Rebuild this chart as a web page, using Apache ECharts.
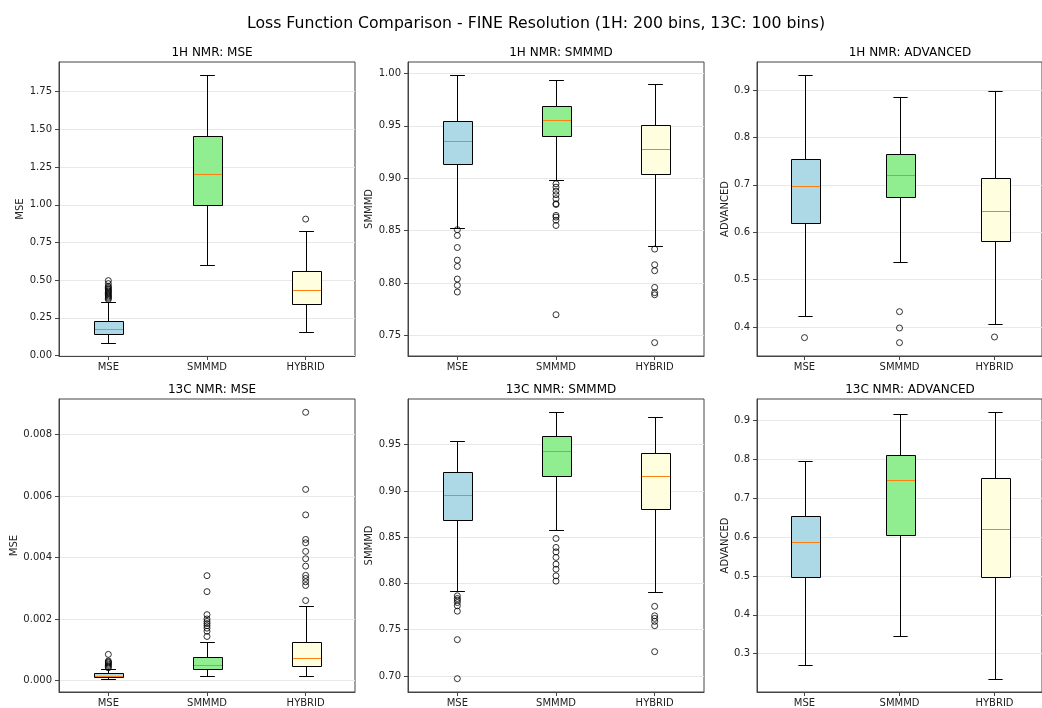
<!DOCTYPE html>
<html><head><meta charset="utf-8">
<script src="https://cdn.jsdelivr.net/npm/echarts@6/dist/echarts.min.js"></script>
<style>html,body{margin:0;padding:0;background:#fff}#c{width:1042px;height:708px}</style>
</head><body><div id="c"></div><script>
const categories = ['MSE', 'SMMMD', 'HYBRID'];
const boxColors = ['#add8e6', '#90ee90', '#ffffe0'];
const mainTitle = 'Loss Function Comparison - FINE Resolution (1H: 200 bins, 13C: 100 bins)';

// per category: [low whisker, Q1, median, Q3, high whisker]
const h1MseStats = [[0.086, 0.146, 0.179, 0.229, 0.358], [0.600, 0.997, 1.205, 1.454, 1.858], [0.156, 0.344, 0.434, 0.563, 0.828]];
const h1MseOutliers = [[0.372, 0.380, 0.388, 0.396, 0.404, 0.412, 0.420, 0.428, 0.436, 0.444, 0.452, 0.460, 0.477, 0.497], [], [0.905]];
const h1MseTicks = [0, 0.25, 0.5, 0.75, 1.0, 1.25, 1.5, 1.75];

const h1SmmmdStats = [[0.853, 0.914, 0.935, 0.955, 0.998], [0.8985, 0.9404, 0.9556, 0.969, 0.994], [0.835, 0.904, 0.928, 0.951, 0.990]];
const h1SmmmdOutliers = [
  [0.851, 0.8455, 0.834, 0.822, 0.816, 0.804, 0.798, 0.7916],
  [0.8947, 0.8915, 0.8877, 0.8843, 0.8805, 0.8757, 0.875, 0.8646, 0.863, 0.860, 0.855, 0.770],
  [0.8325, 0.8176, 0.8119, 0.796, 0.791, 0.789, 0.7434]];
const h1SmmmdTicks = [0.75, 0.80, 0.85, 0.90, 0.95, 1.00];

const h1AdvStats = [[0.4232, 0.6205, 0.697, 0.7547, 0.931], [0.5377, 0.674, 0.721, 0.766, 0.886], [0.4057, 0.582, 0.6443, 0.714, 0.8985]];
const h1AdvOutliers = [[0.3777], [0.4324, 0.398, 0.3671], [0.379]];
const h1AdvTicks = [0.4, 0.5, 0.6, 0.7, 0.8, 0.9];

const c13MseStats = [[0.000055, 0.00012, 0.00014, 0.00025, 0.00038], [0.00013, 0.00037, 0.00051, 0.00077, 0.00125], [0.00014, 0.000455, 0.000715, 0.00125, 0.00241]];
const c13MseOutliers = [
  [0.00041, 0.00045, 0.00049, 0.00053, 0.00057, 0.00060, 0.00063, 0.000846],
  [0.00341, 0.00289, 0.00214, 0.00200, 0.00192, 0.00185, 0.00178, 0.00170, 0.00160, 0.00143],
  [0.00873, 0.00622, 0.00539, 0.00459, 0.00448, 0.0042, 0.00396, 0.00372, 0.00342, 0.00332, 0.00321, 0.00309, 0.0026]];
const c13MseTicks = [0, 0.002, 0.004, 0.006, 0.008];

const c13SmmmdStats = [[0.7914, 0.8683, 0.8955, 0.9209, 0.9543], [0.8575, 0.916, 0.9435, 0.9593, 0.985], [0.7903, 0.8802, 0.9161, 0.9406, 0.9795]];
const c13SmmmdOutliers = [
  [0.7866, 0.7837, 0.7819, 0.7794, 0.7758, 0.770, 0.7392, 0.697],
  [0.8486, 0.8389, 0.8341, 0.8281, 0.8208, 0.8154, 0.8082, 0.8025],
  [0.7752, 0.765, 0.7622, 0.759, 0.7543, 0.7262]];
const c13SmmmdTicks = [0.70, 0.75, 0.80, 0.85, 0.90, 0.95];

const c13AdvStats = [[0.2718, 0.4974, 0.5872, 0.6528, 0.7964], [0.3444, 0.6059, 0.7462, 0.8103, 0.9162], [0.2359, 0.4974, 0.6195, 0.7528, 0.9205]];
const c13AdvOutliers = [[], [], []];
const c13AdvTicks = [0.3, 0.4, 0.5, 0.6, 0.7, 0.8, 0.9];

const panels = [
  { title: '1H NMR: MSE', yName: 'MSE', stats: h1MseStats, outliers: h1MseOutliers, ticks: h1MseTicks, dec: 2, row: 0, col: 0, gap: 32 },
  { title: '1H NMR: SMMMD', yName: 'SMMMD', stats: h1SmmmdStats, outliers: h1SmmmdOutliers, ticks: h1SmmmdTicks, dec: 2, row: 0, col: 1, gap: 32 },
  { title: '1H NMR: ADVANCED', yName: 'ADVANCED', stats: h1AdvStats, outliers: h1AdvOutliers, ticks: h1AdvTicks, dec: 1, row: 0, col: 2, gap: 27 },
  { title: '13C NMR: MSE', yName: 'MSE', stats: c13MseStats, outliers: c13MseOutliers, ticks: c13MseTicks, dec: 3, row: 1, col: 0, gap: 38 },
  { title: '13C NMR: SMMMD', yName: 'SMMMD', stats: c13SmmmdStats, outliers: c13SmmmdOutliers, ticks: c13SmmmdTicks, dec: 2, row: 1, col: 1, gap: 32 },
  { title: '13C NMR: ADVANCED', yName: 'ADVANCED', stats: c13AdvStats, outliers: c13AdvOutliers, ticks: c13AdvTicks, dec: 1, row: 1, col: 2, gap: 27 }
];

const colLeft = [59, 408, 757];
const plotW = 296;
const rowTop = [62, 399];
const plotH = 294;
const FONT = 'DejaVu Sans';

function crisp(v) { return Math.round(v) + 0.5; }

function renderBox(params, api) {
  const ci = api.value(0);
  const lo = api.coord([ci, api.value(1)]);
  const q1 = api.coord([ci, api.value(2)]);
  const md = api.coord([ci, api.value(3)]);
  const q3 = api.coord([ci, api.value(4)]);
  const hi = api.coord([ci, api.value(5)]);
  const band = api.size([1, 0])[0];
  const bw = band * 0.3;
  const cw = bw / 2;
  const cx = crisp(lo[0]);
  const lineStyle = { stroke: '#000', lineWidth: 1, fill: null };
  const yLo = crisp(lo[1]), yQ1 = crisp(q1[1]), yMd = crisp(md[1]), yQ3 = crisp(q3[1]), yHi = crisp(hi[1]);
  const bl = Math.round(cx - bw / 2) + 0.5, br = Math.round(cx + bw / 2) + 0.5;
  return {
    type: 'group',
    children: [
      { type: 'line', shape: { x1: cx, y1: yLo, x2: cx, y2: yQ1 }, style: lineStyle },
      { type: 'line', shape: { x1: cx, y1: yQ3, x2: cx, y2: yHi }, style: lineStyle },
      { type: 'line', shape: { x1: cx - cw / 2, y1: yLo, x2: cx + cw / 2, y2: yLo }, style: lineStyle },
      { type: 'line', shape: { x1: cx - cw / 2, y1: yHi, x2: cx + cw / 2, y2: yHi }, style: lineStyle },
      { type: 'rect', shape: { x: bl, y: yQ3, width: br - bl, height: yQ1 - yQ3 }, style: { fill: boxColors[ci], stroke: '#000', lineWidth: 1 } },
      { type: 'line', shape: { x1: bl + 0.5, y1: yMd, x2: br - 0.5, y2: yMd }, style: { stroke: '#ff7f0e', lineWidth: 1 } }
    ]
  };
}

const option = {
  animation: false,
  backgroundColor: '#fff',
  textStyle: { fontFamily: FONT },
  title: [{ text: mainTitle, left: 531, top: 11, textAlign: 'center', textStyle: { fontFamily: FONT, fontSize: 15.7, fontWeight: 'normal', color: '#000' } }],
  grid: [], xAxis: [], yAxis: [], series: []
};

panels.forEach((p, i) => {
  const all = p.stats.flat().concat(p.outliers.flat());
  const dmin = Math.min(...all), dmax = Math.max(...all);
  const m = (dmax - dmin) * 0.05;
  const left = colLeft[p.col], top = rowTop[p.row];
  option.title.push({
    text: p.title, left: left + plotW / 2, top: top - 20, textAlign: 'center',
    textStyle: { fontFamily: FONT, fontSize: 12, fontWeight: 'normal', color: '#000' }
  });
  option.grid.push({ left: left, top: top, width: plotW, height: plotH, show: true, borderColor: '#444', borderWidth: 1, backgroundColor: '#fff', containLabel: false });
  option.xAxis.push({
    type: 'category', gridIndex: i, data: categories, boundaryGap: true,
    axisLine: { show: true, onZero: false, lineStyle: { color: '#444', width: 1 } },
    axisTick: { show: true, alignWithLabel: true, length: 4, lineStyle: { color: '#444' } },
    axisLabel: { fontFamily: FONT, fontSize: 10, color: '#222', margin: 6, interval: 0 },
    splitLine: { show: false }
  });
  option.yAxis.push({
    type: 'value', gridIndex: i, min: dmin - m, max: dmax + m,
    name: p.yName, nameLocation: 'middle', nameGap: p.gap, nameRotate: 90,
    nameTextStyle: { fontFamily: FONT, fontSize: 10, color: '#222' },
    axisLine: { show: true, onZero: false, lineStyle: { color: '#444', width: 1 } },
    axisTick: { show: true, length: 4, customValues: p.ticks, lineStyle: { color: '#444' } },
    axisLabel: { fontFamily: FONT, fontSize: 10, color: '#222', margin: 7, customValues: p.ticks, formatter: v => Number(v).toFixed(p.dec), showMinLabel: true, showMaxLabel: true },
    splitLine: { show: true, lineStyle: { color: '#e8e8e8', width: 1 } }
  });
  option.series.push({
    type: 'custom', xAxisIndex: i, yAxisIndex: i, renderItem: renderBox, z: 3,
    encode: { x: 0, y: [1, 2, 3, 4, 5] },
    data: p.stats.map((s, ci) => [ci].concat(s))
  });
  const pts = [];
  p.outliers.forEach((arr, ci) => arr.forEach(v => pts.push([ci, v])));
  option.series.push({
    type: 'scatter', xAxisIndex: i, yAxisIndex: i, z: 4, symbol: 'circle', symbolSize: 6,
    itemStyle: { color: 'rgba(255,255,255,0)', borderColor: '#000', borderWidth: 1 },
    data: pts
  });
});

const chart = echarts.init(document.getElementById('c'), null, { renderer: 'canvas' });
chart.setOption(option);
</script></body></html>
